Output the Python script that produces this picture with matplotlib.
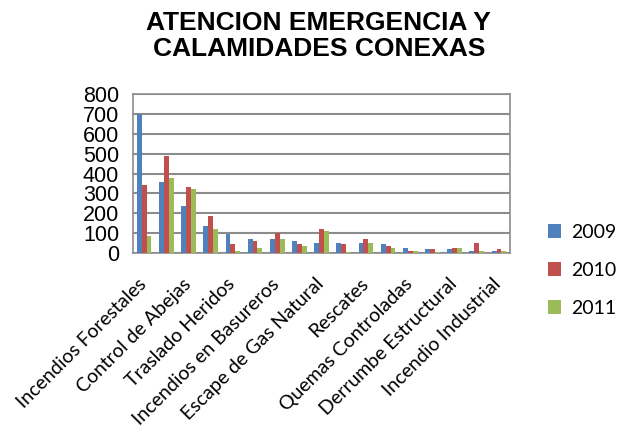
import numpy as np
import matplotlib
matplotlib.use('Agg')
import matplotlib.pyplot as plt

# 17 categorias, solo se ven los nombres de una de cada dos
etiquetas = ['Incendios Forestales', '', 'Control de Abejas', '', 'Traslado Heridos', '',
             'Incendios en Basureros', '', 'Escape de Gas Natural', '', 'Rescates', '',
             'Quemas Controladas', '', 'Derrumbe Estructural', '', 'Incendio Industrial']
v2009 = [700, 360, 237, 137, 95, 70, 70, 62, 53, 53, 53, 45, 28, 20, 20, 12, 12]
v2010 = [345, 487, 335, 187, 45, 62, 103, 45, 120, 45, 70, 37, 12, 20, 28, 53, 20]
v2011 = [87, 378, 320, 120, 12, 28, 70, 37, 112, 3, 53, 28, 12, 3, 28, 12, 12]
anios = ['2009', '2010', '2011']
colores = ['#4F81BD', '#C0504D', '#9BBB59']

fig = plt.figure(figsize=(6.19, 4.44), dpi=100)
ax = fig.add_axes([0.215, 0.43, 0.609, 0.358])

x = np.arange(len(etiquetas))
ancho = 0.22
for k, (serie, col, nom) in enumerate(zip([v2009, v2010, v2011], colores, anios)):
    ax.bar(x + (k - 1) * ancho, serie, ancho, color=col, label=nom, zorder=3)

ax.set_xlim(-0.5, len(etiquetas) - 0.5)
ax.set_ylim(0, 800)
ax.set_yticks(range(0, 801, 100))
ax.yaxis.grid(True, color='#8c8c8c', linewidth=1.5, zorder=0)
for s in ax.spines.values():
    s.set_color('#8c8c8c')
    s.set_linewidth(1.2)
ax.tick_params(axis='y', length=0, labelsize=15.5, pad=10)
ax.tick_params(axis='x', length=0, pad=16)
for t in ax.get_yticklabels():
    t.set_fontfamily('Liberation Sans')

ax.set_xticks(x - 0.3)
ax.set_xticklabels(etiquetas, rotation=45, ha='right', rotation_mode='anchor',
                   fontsize=14, fontfamily='Lato')

fig.text(0.515, 0.975, 'ATENCION EMERGENCIA Y\nCALAMIDADES CONEXAS', ha='center', va='top',
         fontsize=19, fontweight='bold', fontfamily='Liberation Sans', linespacing=1.1)

leg = ax.legend(loc='center left', bbox_to_anchor=(1.10, -0.11), frameon=False,
                prop={'family': 'Lato', 'size': 14}, handlelength=0.7,
                handleheight=0.7, labelspacing=1.08, handletextpad=0.5,
                borderpad=0, borderaxespad=0)

fig.savefig('out.png', dpi=100)
